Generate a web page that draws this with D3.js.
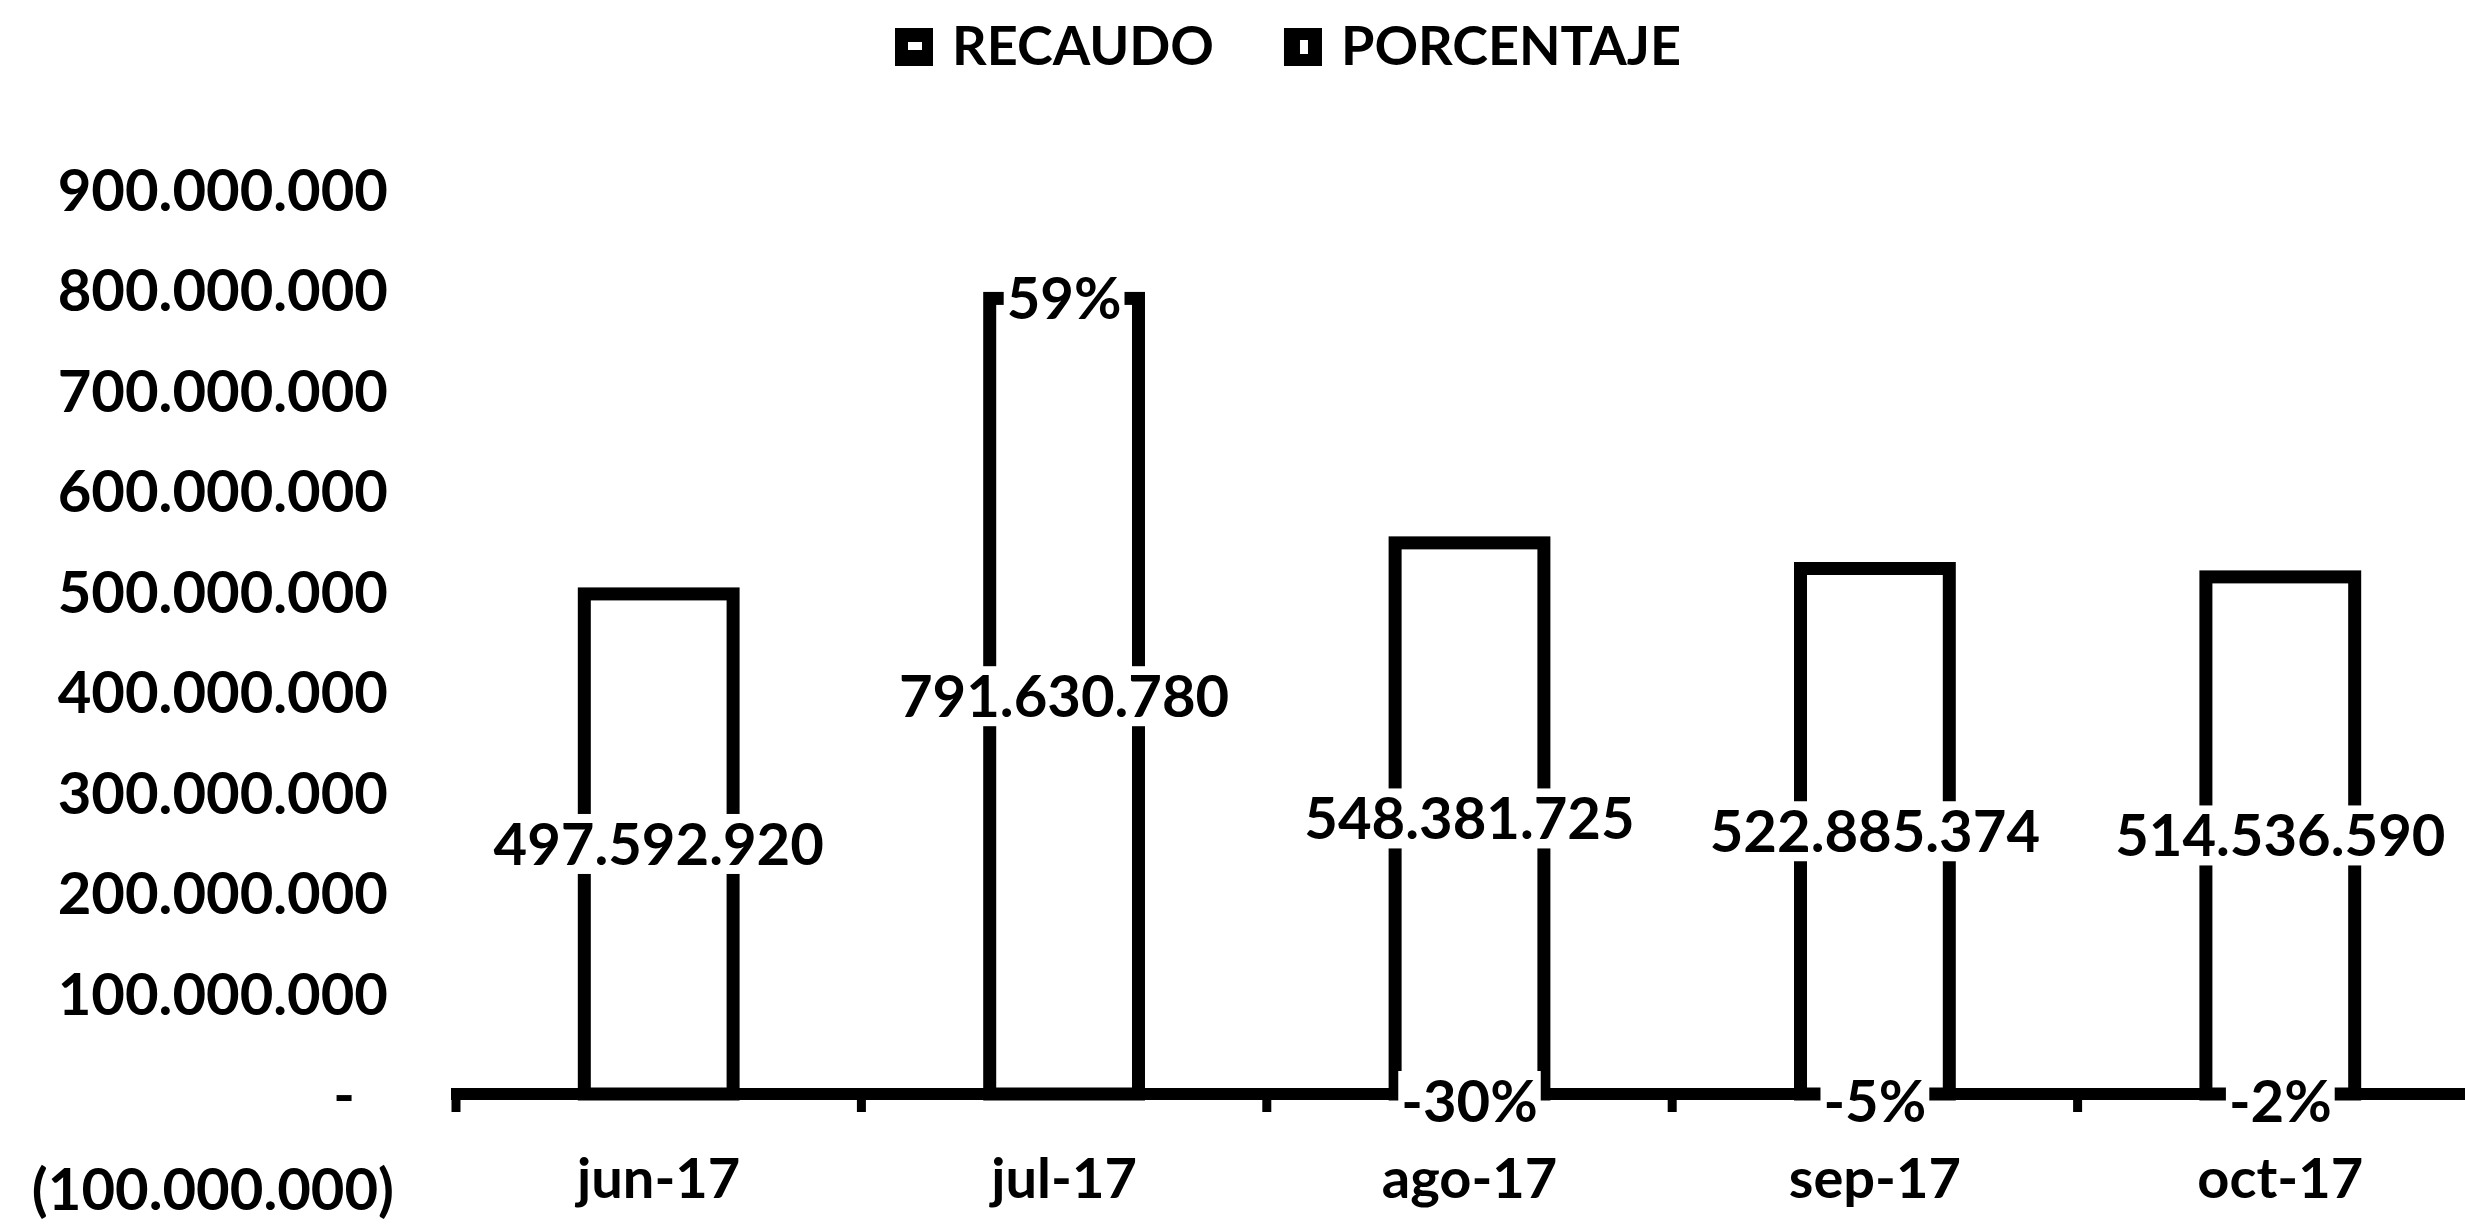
<!DOCTYPE html>
<html>
<head>
<meta charset="utf-8">
<script src="https://cdnjs.cloudflare.com/ajax/libs/d3/7.8.5/d3.min.js"></script>
<style>
body { margin: 0; background: #fff; }
svg text { font-family: Lato, "Open Sans", sans-serif; font-weight: 700; fill: #000; }
</style>
</head>
<body>
<div id="chart"></div>
<script>
// recaudo mensual jun - oct 2017
var meses = ['jun-17', 'jul-17', 'ago-17', 'sep-17', 'oct-17'];
var recaudo = [497592920, 791630780, 548381725, 522885374, 514536590];
// variacion contra el mes anterior (jun no tiene)
var porcentaje = [null, 0.59, -0.30, -0.05, -0.02];
var series = ['RECAUDO', 'PORCENTAJE'];
var yTicks = [-100000000, 0, 100000000, 200000000, 300000000, 400000000,
  500000000, 600000000, 700000000, 800000000, 900000000];

var width = 2465, height = 1224;

var svg = d3.select('#chart').append('svg')
    .attr('width', width)
    .attr('height', height);

var x = d3.scaleBand()
    .domain(meses)
    .range([456, 2483])
    .padding(0);

var y = d3.scaleLinear()
    .domain([-100000000, 900000000])
    .range([1194.5, 189.5]);

// formato excel: puntos de miles, negativos entre parentesis
var loc = d3.formatLocale({decimal: ',', thousands: '.', grouping: [3], currency: ['$', ''], minus: '-', percent: '%'});
var fmt = loc.format(',.0f');
var pct = loc.format('.0%');

function yLabel(d) {
  if (d === 0) return '-';
  if (d < 0) return '(' + fmt(-d) + ')';
  return fmt(d);
}

// eje y (solo etiquetas)
var yAxis = svg.append('g')
    .attr('transform', 'translate(388,0)')
    .call(d3.axisLeft(y).tickValues(yTicks).tickFormat(yLabel).tickSize(0).tickPadding(0));
yAxis.select('.domain').remove();
yAxis.selectAll('text')
    .style('font-size', '58px')
    .style('font-family', 'Lato, sans-serif')
    .attr('dy', function(d) { return d < 0 ? '0.26em' : '0.36em'; })
    .attr('dx', function(d) { return d === 0 ? -33 : (d < 0 ? 6 : 0); });

// linea del eje x y marcas entre categorias
var y0 = y(0);
svg.append('line')
    .attr('x1', x.range()[0] - 5)
    .attr('x2', width)
    .attr('y1', y0)
    .attr('y2', y0)
    .attr('stroke', '#000')
    .attr('stroke-width', 12);

var bounds = meses.map(function(d) { return x(d); });
svg.selectAll('.tick-x')
    .data(bounds)
    .enter()
    .append('line')
    .attr('class', 'tick-x')
    .attr('x1', function(d) { return d; })
    .attr('x2', function(d) { return d; })
    .attr('y1', y0)
    .attr('y2', y0 + 18)
    .attr('stroke', '#000')
    .attr('stroke-width', 9);

// barras
var bw = x.bandwidth() * 0.367;
svg.selectAll('.bar')
    .data(recaudo)
    .enter()
    .append('rect')
    .attr('class', 'bar')
    .attr('x', function(d, i) { return x(meses[i]) + x.bandwidth() / 2 - bw / 2; })
    .attr('y', function(d) { return y(d); })
    .attr('width', bw)
    .attr('height', function(d) { return y0 - y(d); })
    .attr('fill', '#fff')
    .attr('stroke', '#000')
    .attr('stroke-width', 13);

// etiquetas de categoria
svg.selectAll('.cat')
    .data(meses)
    .enter()
    .append('text')
    .attr('class', 'cat')
    .attr('x', function(d) { return x(d) + x.bandwidth() / 2; })
    .attr('y', 1198)
    .attr('text-anchor', 'middle')
    .style('font-size', '56px')
    .text(function(d) { return d; });

// etiqueta con fondo blanco
function label(g, tx, ty, txt) {
  var t = g.append('text')
      .attr('x', tx)
      .attr('y', ty)
      .attr('dy', '0.36em')
      .attr('text-anchor', 'middle')
      .style('font-size', '58px')
      .text(txt);
  var b = t.node().getBBox();
  g.insert('rect', 'text')
      .attr('x', b.x - 3)
      .attr('y', ty - 30)
      .attr('width', b.width + 6)
      .attr('height', 60)
      .attr('fill', '#fff');
}

recaudo.forEach(function(v, i) {
  var g = svg.append('g').attr('class', 'val');
  label(g, x(meses[i]) + x.bandwidth() / 2, (y(v) + y0) / 2, fmt(v));
});

porcentaje.forEach(function(p, i) {
  if (p === null) return;
  var g = svg.append('g').attr('class', 'pct');
  var ty = p > 0 ? y(recaudo[i]) : y0 + 7;
  label(g, x(meses[i]) + x.bandwidth() / 2, ty, pct(p));
});

// leyenda
var lx = 895;
series.forEach(function(s, i) {
  var g = svg.append('g').attr('transform', 'translate(' + lx + ',0)');
  g.append('rect')
      .attr('x', 0).attr('y', 28)
      .attr('width', 38).attr('height', 38)
      .attr('fill', '#000');
  g.append('rect')
      .attr('x', i === 0 ? 13 : 16).attr('y', i === 0 ? 42 : 40)
      .attr('width', i === 0 ? 14 : 8).attr('height', i === 0 ? 8 : 14)
      .attr('fill', '#fff');
  var t = g.append('text')
      .attr('x', 57)
      .attr('y', 65)
      .style('font-size', '54px')
      .text(s);
  lx += 57 + t.node().getComputedTextLength() + 70;
});
</script>
</body>
</html>
